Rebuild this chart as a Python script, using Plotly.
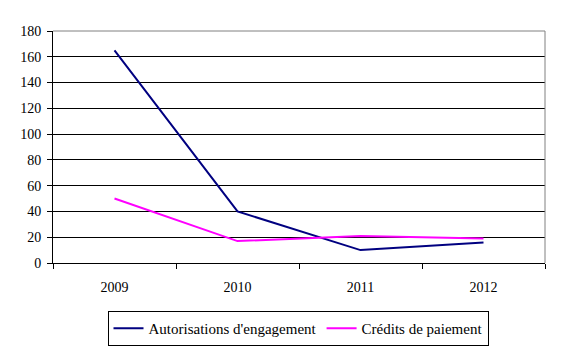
import plotly.graph_objects as go

years = ["2009", "2010", "2011", "2012"]
autorisations = [165, 40, 10, 16]
credits = [50, 17, 21, 19]
y_ticks = [0, 20, 40, 60, 80, 100, 120, 140, 160, 180]

font = dict(family="Liberation Serif", size=14, color="black")
legend_font = dict(font, size=15)

fig = go.Figure()
fig.add_trace(go.Scatter(x=years, y=autorisations, mode="lines",
                         name="Autorisations d'engagement",
                         line=dict(color="#000080", width=2)))
fig.add_trace(go.Scatter(x=years, y=credits, mode="lines",
                         name="Crédits de paiement",
                         line=dict(color="#FF00FF", width=2)))

fig.update_layout(
    width=563, height=350,
    margin=dict(l=53, r=18, t=31, b=87, autoexpand=False),
    paper_bgcolor="white", plot_bgcolor="white",
    font=font,
    showlegend=True,
    legend=dict(orientation="h", x=(102 + 494) / 2 / 563, xanchor="center",
                xref="container", yref="container",
                y=1 - 311 / 350, yanchor="top",
                bordercolor="black", borderwidth=1, font=legend_font,
                itemwidth=30, tracegroupgap=0),
    xaxis=dict(type="category", range=[-0.5, 3.5], tickson="boundaries",
               ticks="outside", ticklen=5, tickcolor="black",
               ticklabelstandoff=11,
               showline=True, linecolor="black", linewidth=1,
               showgrid=False, zeroline=False, tickfont=font),
    yaxis=dict(range=[0, 180], tickvals=y_ticks, ticks="outside", ticklen=5,
               tickcolor="black", ticklabelstandoff=3,
               showline=True, linecolor="black", linewidth=1,
               showgrid=True, gridcolor="black", gridwidth=1, zeroline=False,
               tickfont=font),
)

# Gray frame on the top and right edges of the plot area
fig.add_shape(type="line", xref="paper", yref="paper", x0=0, x1=1, y0=1, y1=1,
              line=dict(color="#808080", width=1))
fig.add_shape(type="line", xref="paper", yref="paper", x0=1, x1=1, y0=0, y1=1,
              line=dict(color="#808080", width=1))

fig.write_html("out.html")
